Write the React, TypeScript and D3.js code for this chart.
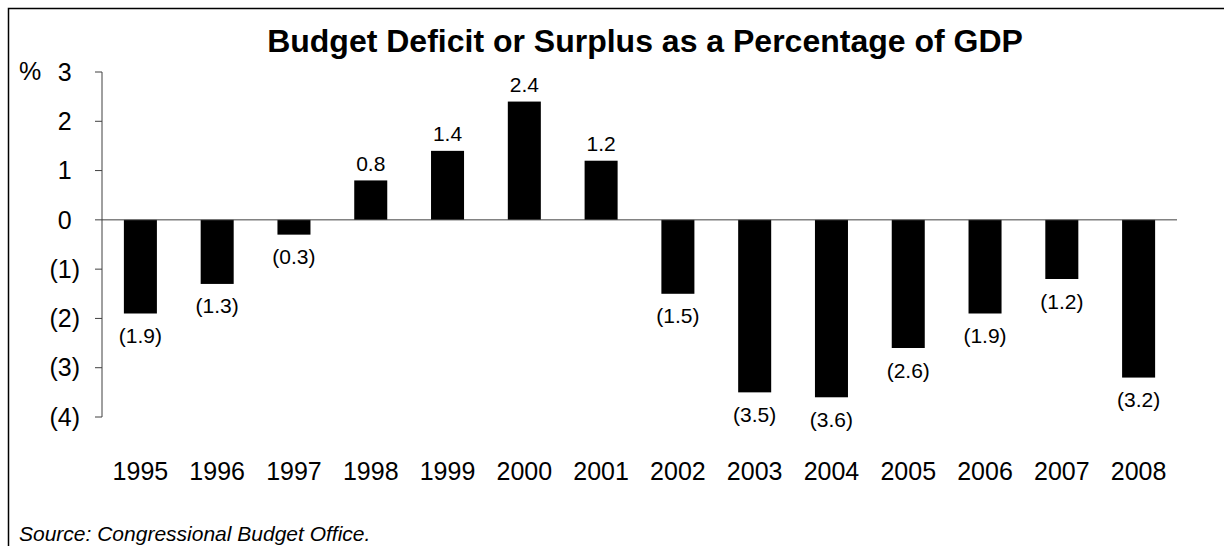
import React from "react";
import * as d3 from "d3";

const years = ["1995","1996","1997","1998","1999","2000","2001","2002","2003","2004","2005","2006","2007","2008"];
const values = [-1.9,-1.3,-0.3,0.8,1.4,2.4,1.2,-1.5,-3.5,-3.6,-2.6,-1.9,-1.2,-3.2];
const yTicks = [3,2,1,0,-1,-2,-3,-4];
const title = "Budget Deficit or Surplus as a Percentage of GDP";
const source = "Source: Congressional Budget Office.";

const W = 1224, H = 546;
const FONT = "'Liberation Sans', Arial, sans-serif";

export default function App() {
  const x = d3.scaleBand<string>().domain(years).range([102, 1177]).paddingInner(0.57).paddingOuter(0.285);
  const y = d3.scaleLinear().domain([-4, 3]).range([417, 72]);
  const fmt = (v: number) => (v < 0 ? `(${d3.format(".1f")(-v)})` : d3.format(".1f")(v));
  const fmtTick = (v: number) => (v < 0 ? `(${-v})` : `${v}`);
  const parenW = 25 * 0.333;
  return (
    <svg width={W} height={H} style={{ position: "absolute", left: 0, top: 0, display: "block", background: "#fff" }} fontFamily={FONT}>
      <rect x={8.5} y={8.5} width={W + 20} height={H + 20} fill="none" stroke="#000" strokeWidth={1.5} />
      <text x={645} y={52} textAnchor="middle" fontSize={32} fontWeight="bold" fill="#000">{title}</text>
      <text x={19} y={80} fontSize={25} fill="#000">%</text>
      {/* y axis */}
      <line x1={102} x2={102} y1={y(3)} y2={y(-4)} stroke="#404040" strokeWidth={1} />
      {yTicks.map((t) => (
        <g key={t}>
          <line x1={95} x2={102} y1={y(t)} y2={y(t)} stroke="#404040" strokeWidth={1} />
          <text x={t < 0 ? 80 : 80 - parenW} y={y(t) + 8.7} textAnchor="end" fontSize={25} fill="#000">{fmtTick(t)}</text>
        </g>
      ))}
      {/* bars */}
      {values.map((v, i) => {
        const yr = years[i];
        const top = y(Math.max(0, v));
        const bot = y(Math.min(0, v));
        return (
          <g key={yr}>
            <rect x={x(yr)} y={top} width={x.bandwidth()} height={bot - top} fill="#000" />
            <text
              x={(x(yr) as number) + x.bandwidth() / 2}
              y={v >= 0 ? top - 9.5 : bot + 29.5}
              textAnchor="middle"
              fontSize={21}
              fill="#000"
            >{fmt(v)}</text>
          </g>
        );
      })}
      {/* zero line */}
      <line x1={102} x2={1177} y1={y(0)} y2={y(0)} stroke="#404040" strokeWidth={1} />
      {/* x labels */}
      {years.map((yr) => (
        <text key={yr} x={(x(yr) as number) + x.bandwidth() / 2} y={480} textAnchor="middle" fontSize={25} fill="#000">{yr}</text>
      ))}
      <text x={19} y={541} fontSize={21} fontStyle="italic" fill="#000">{source}</text>
    </svg>
  );
}
